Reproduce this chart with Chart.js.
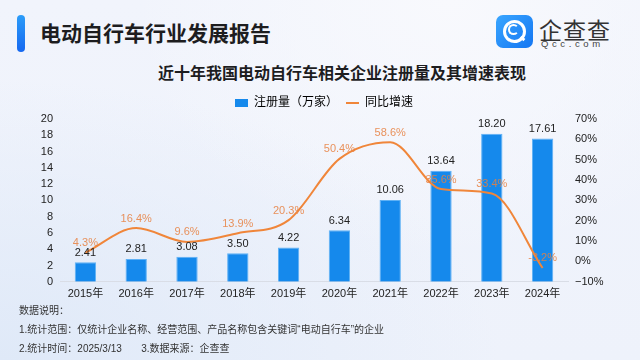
<!DOCTYPE html>
<html lang="zh">
<head>
<meta charset="UTF-8">
<script src="https://cdn.jsdelivr.net/npm/chart.js"></script>
<style>
  html, body { margin: 0; padding: 0; }
  body {
    width: 640px; height: 360px; position: relative; overflow: hidden;
    font-family: "Liberation Sans", "Noto Sans CJK SC", sans-serif;
    background: radial-gradient(ellipse at 0% 100%, #dfe9f8 0%, rgba(223,233,248,0) 55%),
                radial-gradient(ellipse at 70% 0%, #f8f9fd 0%, rgba(248,249,253,0) 50%),
                linear-gradient(180deg, #f1f4fc 0%, #eef2fb 100%);
  }
  .bar { position: absolute; left: 17px; top: 15px; width: 8px; height: 37px; border-radius: 4px;
         background: linear-gradient(180deg, #2b9cf9, #1668f0); }
  .title { position: absolute; left: 40px; top: 17px; font-size: 21px; font-weight: bold; color: #1d1d1f;
           font-family: "Noto Sans CJK SC", sans-serif; }
  .logo { position: absolute; left: 496px; top: 15px; width: 37px; height: 33px; border-radius: 7px;
          background: linear-gradient(135deg, #3aa6ff, #1476f2); }
  .logo .ring { position: absolute; left: 7px; top: 5px; width: 17px; height: 17px; border: 3px solid #fff; border-radius: 50%; }
  .logo .c { position: absolute; left: 12px; top: 9px; width: 7px; height: 7px; border: 2.5px solid #fff; border-right-color: transparent; border-radius: 50%; }
  .logo .tail { position: absolute; left: 24px; top: 22px; width: 5px; height: 3px; background: #fff; transform: rotate(40deg); }
  .brand { position: absolute; left: 539px; top: 12px; font-size: 23px; color: #333; letter-spacing: 1px;
           font-family: "Noto Sans CJK SC", sans-serif; }
  .brand-en { position: absolute; left: 541px; top: 38px; font-size: 9.5px; color: #444; letter-spacing: 3.6px; }
  .sub { position: absolute; left: 0; width: 684px; top: 60px; text-align: center; font-size: 16px; font-weight: bold; color: #1d1d1f;
         font-family: "Noto Sans CJK SC", sans-serif; }
  #wrap { position: absolute; left: 0; top: 89px; width: 640px; height: 218px; }
  .note { position: absolute; left: 19px; font-size: 10px; color: #333; }
</style>
</head>
<body>
<div class="bar"></div>
<div class="title">电动自行车行业发展报告</div>
<div class="logo"><div class="ring"></div><div class="c"></div><div class="tail"></div></div>
<div class="brand">企查查</div>
<div class="brand-en">Qcc.com</div>
<div class="sub">近十年我国电动自行车相关企业注册量及其增速表现</div>
<div id="wrap"><canvas id="chart"></canvas></div>
<div class="note" style="top:302px">数据说明：</div>
<div class="note" style="top:321px">1.统计范围：仅统计企业名称、经营范围、产品名称包含关键词“电动自行车”的企业</div>
<div class="note" style="top:340px">2.统计时间：2025/3/13&nbsp;&nbsp;&nbsp;&nbsp;&nbsp;&nbsp;&nbsp;3.数据来源：企查查</div>

<script>
const years = ['2015年', '2016年', '2017年', '2018年', '2019年', '2020年', '2021年', '2022年', '2023年', '2024年'];
const registrations = [2.41, 2.81, 3.08, 3.50, 4.22, 6.34, 10.06, 13.64, 18.20, 17.61];
const growth = [4.3, 16.4, 9.6, 13.9, 20.3, 50.4, 58.6, 35.6, 33.4, -3.2];

const FONT = "'Liberation Sans', 'Noto Sans CJK SC', sans-serif";
const BLUE = '#1589ec';
const ORANGE = '#f0863a';

// draws the value labels above bars and line points
const valueLabels = {
  id: 'valueLabels',
  afterDatasetsDraw(chart) {
    const ctx = chart.ctx;
    ctx.save();
    ctx.textAlign = 'center';
    ctx.textBaseline = 'bottom';
    ctx.font = '11px ' + FONT;
    chart.getDatasetMeta(0).data.forEach((el, i) => {
      ctx.fillStyle = '#222';
      ctx.fillText(registrations[i].toFixed(2), el.x, el.y - 4);
    });
    chart.getDatasetMeta(1).data.forEach((el, i) => {
      ctx.fillStyle = 'rgba(232,128,64,0.85)';
      ctx.fillText(growth[i].toFixed(1) + '%', el.x, el.y - 4);
    });
    ctx.restore();
  }
};

const ctx = document.getElementById('chart').getContext('2d');
const chart = new Chart(ctx, {
  data: {
    labels: years,
    datasets: [{
      type: 'bar',
      label: '注册量（万家）',
      data: registrations,
      backgroundColor: BLUE,
      borderColor: '#5fb1f5',
      borderWidth: { top: 1, left: 1, right: 1, bottom: 0 },
      yAxisID: 'y',
      barPercentage: 0.42,
      categoryPercentage: 1,
      order: 2
    }, {
      type: 'line',
      label: '同比增速',
      data: growth,
      borderColor: ORANGE,
      backgroundColor: ORANGE,
      borderWidth: 2,
      pointRadius: 0,
      cubicInterpolationMode: 'monotone',
      yAxisID: 'y1',
      order: 1
    }]
  },
  options: {
    responsive: true,
    maintainAspectRatio: false,
    animation: false,
    layout: { padding: { left: 8 } },
    plugins: {
      legend: {
        position: 'top',
        labels: {
          font: { size: 12, family: FONT },
          color: '#222',
          usePointStyle: true,
          pointStyleWidth: 13,
          boxHeight: 8,
          padding: 8,
          generateLabels() {
            return [{
              text: '注册量（万家）', fillStyle: BLUE, strokeStyle: BLUE, lineWidth: 0,
              pointStyle: 'rect', datasetIndex: 0
            }, {
              text: '同比增速', fillStyle: ORANGE, strokeStyle: ORANGE, lineWidth: 2,
              pointStyle: 'line', datasetIndex: 1
            }];
          }
        }
      },
      tooltip: { enabled: false }
    },
    scales: {
      x: {
        grid: { display: false, drawTicks: false },
        border: { color: '#d9dde6' },
        ticks: { color: '#222', font: { size: 11, family: FONT }, padding: 6 }
      },
      y: {
        position: 'left',
        min: 0, max: 20,
        grid: { display: false, drawTicks: false },
        border: { display: false },
        ticks: { stepSize: 2, autoSkip: false, color: '#222', font: { size: 11, family: FONT }, padding: 7 },
        afterFit(s) { s.width = 52; }
      },
      y1: {
        position: 'right',
        min: -10, max: 70,
        grid: { display: false, drawTicks: false },
        border: { display: false },
        ticks: { stepSize: 10, autoSkip: false, color: '#222', font: { size: 11, family: FONT }, padding: 7,
                 callback: v => (v < 0 ? '\u2212' + Math.abs(v) : v) + '%' },
        afterFit(s) { s.width = 72; }
      }
    }
  },
  plugins: [valueLabels]
});
</script>
</body>
</html>
